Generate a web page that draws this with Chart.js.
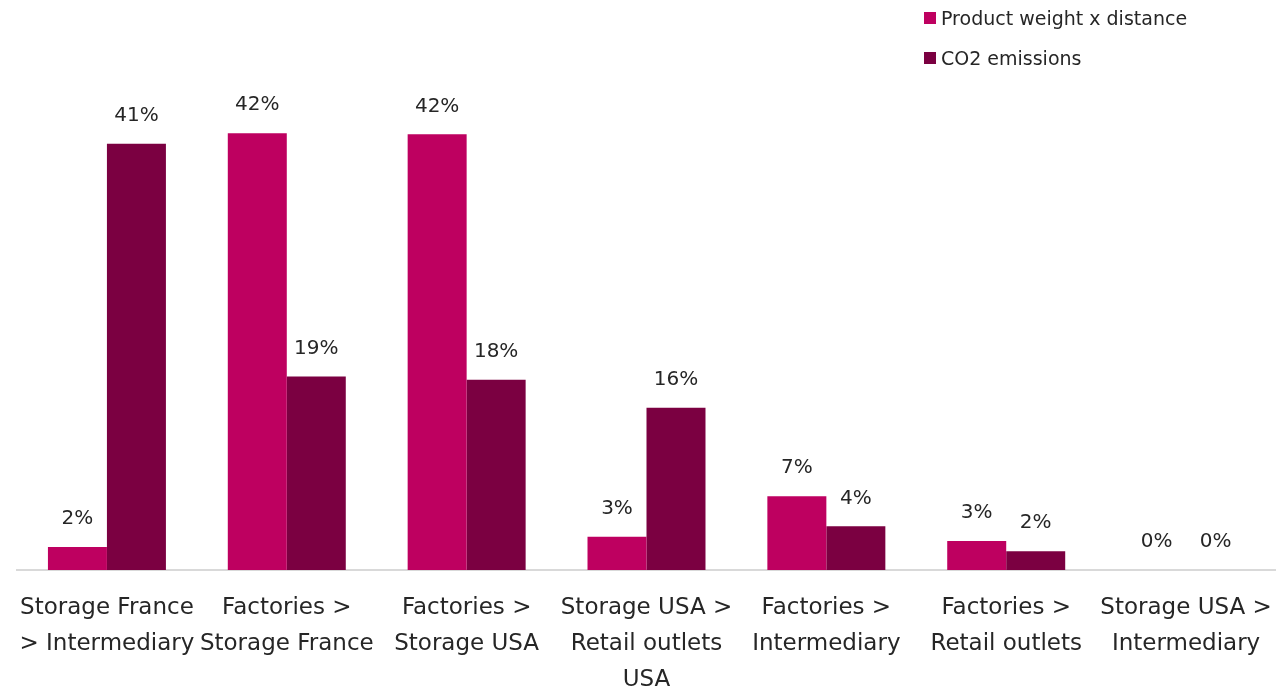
<!DOCTYPE html>
<html>
<head>
<meta charset="utf-8">
<script src="https://cdn.jsdelivr.net/npm/chart.js@4"></script>
<style>
    html, body { margin: 0; padding: 0; background: #fff; }
    #wrap { position: relative; width: 1276px; height: 690px; }
    .legend { position: absolute; left: 924px; top: 0; font-family: "DejaVu Sans", sans-serif; font-size: 19px; color: #262626; }
    .legend-item { position: absolute; white-space: nowrap; display: flex; align-items: center; height: 24px; }
    .legend-item span.box { display: inline-block; width: 12px; height: 12px; margin-right: 5px; }
</style>
</head>
<body>
<div id="wrap">
    <canvas id="routeChart" width="1276" height="690"></canvas>
    <div class="legend" id="legend"></div>
</div>
<script>
// ============================================
// Transport routes - share of weight x distance vs CO2
// ============================================

const categories = [
    ['Storage France', '> Intermediary'],
    ['Factories >', 'Storage France'],
    ['Factories >', 'Storage USA'],
    ['Storage USA >', 'Retail outlets', 'USA'],
    ['Factories >', 'Intermediary'],
    ['Factories >', 'Retail outlets'],
    ['Storage USA >', 'Intermediary']
];
const seriesNames = ['Product weight x distance', 'CO2 emissions'];
const weightDistance = [2.2, 42.0, 41.9, 3.2, 7.1, 2.8, 0];
const co2Emissions = [41.0, 18.6, 18.3, 15.6, 4.2, 1.8, 0];
const seriesColors = ['#BE0060', '#7B0041'];

const FONT = '"DejaVu Sans", sans-serif';

// Draw value labels above each bar
const valueLabels = {
    id: 'valueLabels',
    afterDatasetsDraw(chart) {
        const ctx = chart.ctx;
        ctx.save();
        ctx.font = '20px ' + FONT;
        ctx.fillStyle = '#262626';
        ctx.textAlign = 'center';
        ctx.textBaseline = 'bottom';
        chart.data.datasets.forEach((ds, i) => {
            chart.getDatasetMeta(i).data.forEach((bar, j) => {
                ctx.fillText(Math.round(ds.data[j]) + '%', bar.x, bar.y - 18);
            });
        });
        ctx.restore();
    }
};

function buildLegend() {
    const legend = document.getElementById('legend');
    legend.innerHTML = seriesNames.map((name, i) => `
        <div class="legend-item" style="top:${6 + i * 40}px">
            <span class="box" style="background:${seriesColors[i]}"></span>${name}
        </div>
    `).join('');
}

document.addEventListener('DOMContentLoaded', function() {
    buildLegend();

    new Chart(document.getElementById('routeChart'), {
        type: 'bar',
        data: {
            labels: categories,
            datasets: [
                { label: seriesNames[0], data: weightDistance, backgroundColor: seriesColors[0] },
                { label: seriesNames[1], data: co2Emissions, backgroundColor: seriesColors[1] }
            ]
        },
        options: {
            responsive: false,
            animation: false,
            layout: { padding: { top: 100, left: 17, right: 0, bottom: -28 } },
            datasets: { bar: { categoryPercentage: 0.656, barPercentage: 1 } },
            plugins: {
                legend: { display: false },
                tooltip: { enabled: false }
            },
            scales: {
                y: { display: false, min: 0, max: 45.2 },
                x: {
                    grid: { display: false, drawTicks: false },
                    border: { color: '#d9d9d9', width: 2 },
                    afterFit(scale) {
                        // labels may run past the edges, like the original
                        scale.paddingLeft = 0;
                        scale.paddingRight = 0;
                    },
                    ticks: {
                        padding: 20,
                        color: '#262626',
                        maxRotation: 0,
                        autoSkip: false,
                        font: { family: FONT, size: 23, lineHeight: '36px' }
                    }
                }
            }
        },
        plugins: [valueLabels]
    });
});
</script>
</body>
</html>
